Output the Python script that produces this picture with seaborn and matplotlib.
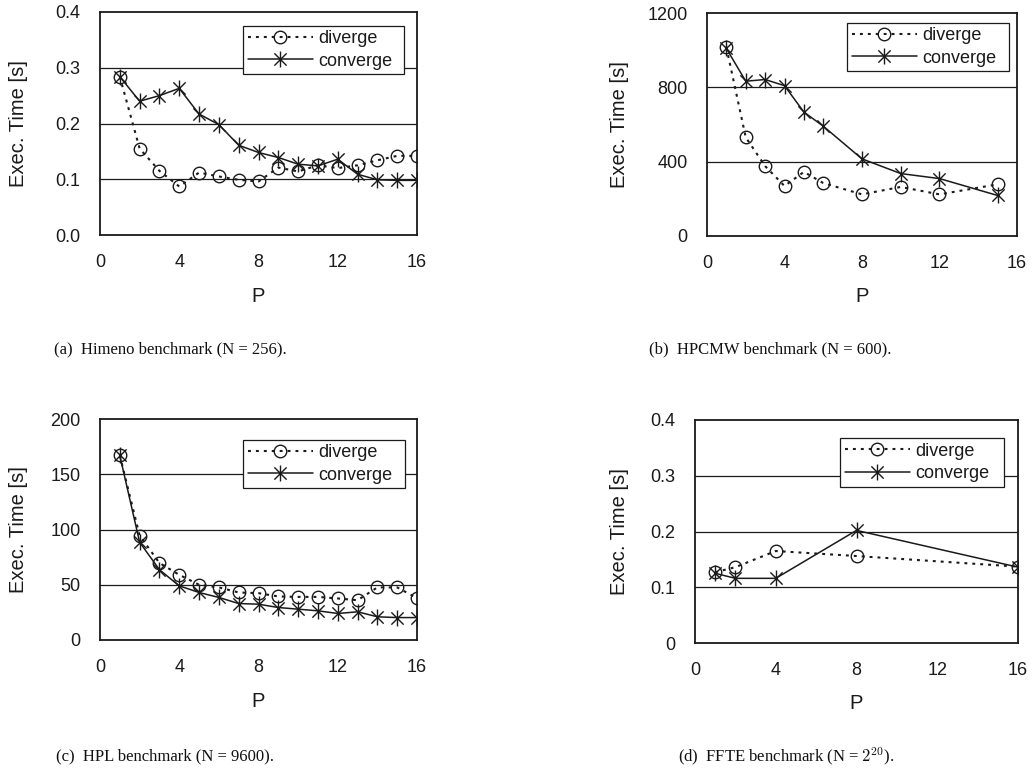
import matplotlib
matplotlib.use("Agg")
import matplotlib.pyplot as plt
import matplotlib.path as mpath
import numpy as np
import pandas as pd
import seaborn as sns

# ---- data -------------------------------------------------------------
himeno_p = [1, 2, 3, 4, 5, 6, 7, 8, 9, 10, 11, 12, 13, 14, 15, 16]
himeno_diverge = [0.284, 0.155, 0.115, 0.087, 0.112, 0.105, 0.099, 0.096,
                  0.121, 0.114, 0.125, 0.120, 0.125, 0.134, 0.142, 0.142]
himeno_converge = [0.284, 0.240, 0.250, 0.263, 0.217, 0.198, 0.161, 0.148,
                   0.139, 0.127, 0.124, 0.136, 0.109, 0.099, 0.098, 0.098]

hpcmw_p = [1, 2, 3, 4, 5, 6, 8, 10, 12, 15]
hpcmw_diverge = [1015, 531, 376, 269, 345, 285, 224, 264, 224, 278]
hpcmw_converge = [1009, 833, 842, 809, 667, 591, 415, 336, 309, 218]

hpl_p = [1, 2, 3, 4, 5, 6, 7, 8, 9, 10, 11, 12, 13, 14, 15, 16]
hpl_diverge = [167, 94.5, 69.7, 59, 50, 47.6, 43, 42.4, 39.4, 39, 39,
               37.6, 36, 47.6, 47.6, 37.9]
hpl_converge = [167, 88.5, 63.6, 49, 43, 38.5, 33, 32.4, 29.4, 27.9, 26.4,
                24, 25.5, 21, 20.3, 20.3]

ffte_p = [1, 2, 4, 8, 16]
ffte_diverge = [0.127, 0.136, 0.165, 0.156, 0.137]
ffte_converge = [0.125, 0.116, 0.116, 0.202, 0.136]

x_ticks = [0, 4, 8, 12, 16]
y_ticks_a = [0.0, 0.1, 0.2, 0.3, 0.4]
y_labels_a = ["0.0", "0.1", "0.2", "0.3", "0.4"]
y_ticks_b = [0, 400, 800, 1200]
y_labels_b = ["0", "400", "800", "1200"]
y_ticks_c = [0, 50, 100, 150, 200]
y_labels_c = ["0", "50", "100", "150", "200"]
y_ticks_d = [0.0, 0.1, 0.2, 0.3, 0.4]
y_labels_d = ["0", "0.1", "0.2", "0.3", "0.4"]

captions = [
    "(a)  Himeno benchmark (N = 256).",
    "(b)  HPCMW benchmark (N = 600).",
    "(c)  HPL benchmark (N = 9600).",
    "(d)  FFTE benchmark (N = $2^{20}$).",
]

# ---- style ------------------------------------------------------------
sns.set_theme(style="white")
plt.rcParams["font.family"] = ["Liberation Sans", "DejaVu Sans"]
plt.rcParams["mathtext.fontset"] = "cm"

INK = "#1a1a1a"
TICK_FS = 13
LABEL_FS = 14.5

# asterisk-like marker: an X with a vertical bar
star_path = mpath.Path(
    [(-1, -1), (1, 1), (-1, 1), (1, -1), (0, -1.3), (0, 1.3)],
    [mpath.Path.MOVETO, mpath.Path.LINETO,
     mpath.Path.MOVETO, mpath.Path.LINETO,
     mpath.Path.MOVETO, mpath.Path.LINETO],
)

W, H = 1033, 773
fig = plt.figure(figsize=(W / 100, H / 100), dpi=100)


def px_axes(x0, y0, x1, y1):
    """Axes from pixel box (left, top, right, bottom)."""
    return fig.add_axes([x0 / W, 1 - y1 / H, (x1 - x0) / W, (y1 - y0) / H])


def draw_panel(ax, p, div, conv, yticks, ylabels, ylab_x, xlab_y, legend_box):
    df = pd.DataFrame({"P": p, "diverge": div, "converge": conv})
    sns.lineplot(data=df, x="P", y="diverge", ax=ax, color=INK,
                 linestyle=(0, (1.4, 2.4)), linewidth=1.5,
                 marker="o", markersize=9, markerfacecolor="none",
                 markeredgecolor=INK, markeredgewidth=1.0,
                 label="diverge")
    sns.lineplot(data=df, x="P", y="converge", ax=ax, color=INK,
                 linestyle="-", linewidth=1.1,
                 marker=star_path, markersize=11.5, markerfacecolor="none",
                 markeredgecolor=INK, markeredgewidth=1.0,
                 label="converge")

    ax.set_xlim(0, 16)
    ax.set_ylim(yticks[0], yticks[-1])
    ax.set_xticks(x_ticks)
    ax.set_xticklabels([str(t) for t in x_ticks])
    ax.set_yticks(yticks)
    ax.set_yticklabels(ylabels)
    ax.tick_params(axis="x", direction="in", length=4, width=1,
                   color=INK, labelsize=TICK_FS, labelcolor=INK, pad=14)
    ax.tick_params(axis="y", length=0, labelsize=TICK_FS, labelcolor=INK,
                   pad=14)
    for y in yticks[1:-1]:
        ax.axhline(y, color=INK, linewidth=0.9, zorder=0)
    for s in ax.spines.values():
        s.set_color(INK)
        s.set_linewidth(1.3)

    ax.set_xlabel("P", fontsize=LABEL_FS, color=INK)
    ax.set_ylabel("Exec. Time [s]", fontsize=LABEL_FS, color=INK)
    ax.xaxis.set_label_coords(0.5, xlab_y)
    ax.yaxis.set_label_coords(ylab_x, 0.5)

    lx0, ly0, lx1, ly1 = legend_box
    pos = ax.get_position()
    bx = (lx0 / W - pos.x0) / pos.width
    by = ((1 - ly1 / H) - pos.y0) / pos.height
    bw = (lx1 - lx0) / W / pos.width
    bh = (ly1 - ly0) / H / pos.height
    leg = ax.legend(loc="center", bbox_to_anchor=(bx, by, bw, bh),
                    mode="expand", frameon=True, fancybox=False,
                    fontsize=TICK_FS, handlelength=3.6, handletextpad=0.3,
                    borderpad=0.25, labelspacing=0.3, borderaxespad=0)
    leg.get_frame().set_edgecolor(INK)
    leg.get_frame().set_linewidth(0.9)
    leg.get_frame().set_facecolor("white")
    leg.get_frame().set_alpha(1)
    for t in leg.get_texts():
        t.set_color(INK)


ax_a = px_axes(100, 12, 417, 235)
draw_panel(ax_a, himeno_p, himeno_diverge, himeno_converge,
           y_ticks_a, y_labels_a, -0.227, -0.235, (243, 17, 404, 83))

ax_b = px_axes(707, 13, 1017, 236)
draw_panel(ax_b, hpcmw_p, hpcmw_diverge, hpcmw_converge,
           y_ticks_b, y_labels_b, -0.252, -0.23, (847, 15, 1009, 79))

ax_c = px_axes(100, 419, 417, 640)
draw_panel(ax_c, hpl_p, hpl_diverge, hpl_converge,
           y_ticks_c, y_labels_c, -0.227, -0.235, (243, 435, 405, 493))

ax_d = px_axes(695, 420, 1018, 643)
draw_panel(ax_d, ffte_p, ffte_diverge, ffte_converge,
           y_ticks_d, y_labels_d, -0.204, -0.23, (840, 433, 1004, 492))

# sub-figure captions
cap_pos = [(170, 349), (770, 349), (165, 756), (786, 756)]
for (cx, cy), text in zip(cap_pos, captions):
    fig.text(cx / W, 1 - cy / H, text, ha="center", va="center",
             fontsize=12, family=["Liberation Serif", "DejaVu Serif"],
             color="#111111")

fig.savefig("out.png", dpi=100)
